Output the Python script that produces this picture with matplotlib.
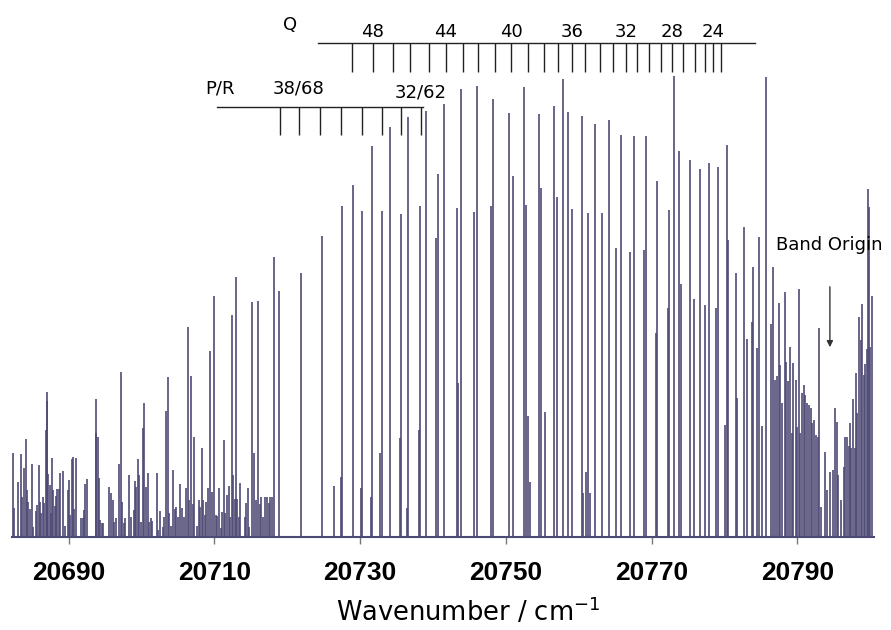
import matplotlib
matplotlib.use("Agg")
import matplotlib.pyplot as plt

# line positions (cm-1) and intensities (arb. units)
low_wn = [20682.27, 20682.54, 20683.00, 20683.37, 20683.54, 20683.78, 20684.09, 20684.27,
          20684.46, 20684.64, 20684.92, 20685.15, 20685.56, 20685.70, 20685.88, 20686.06,
          20686.20, 20686.43, 20686.61, 20686.80, 20686.94, 20687.07, 20687.21, 20687.39,
          20687.53, 20687.66, 20687.84, 20688.04, 20688.21, 20688.39, 20688.59, 20688.76,
          20689.27, 20689.49, 20689.82, 20690.00, 20690.23, 20690.41, 20690.59, 20690.73,
          20690.96, 20691.65, 20691.88, 20692.06, 20692.29, 20692.47, 20693.71, 20693.80,
          20693.98, 20694.16, 20694.35, 20694.57, 20694.71, 20695.49, 20695.73, 20696.00,
          20696.22, 20696.46, 20696.91, 20697.10, 20697.32, 20697.51, 20697.73, 20698.28,
          20698.48, 20698.89, 20699.07, 20699.24, 20699.44, 20699.62, 20699.85, 20700.12,
          20700.34, 20700.54, 20700.81, 20701.03, 20701.22, 20701.40, 20702.05, 20702.23,
          20702.54, 20702.91, 20703.09, 20703.28, 20703.56, 20703.74, 20704.05, 20704.33,
          20704.56, 20704.74, 20704.97, 20705.29, 20705.52, 20705.76, 20706.03, 20706.35,
          20706.53, 20706.72, 20706.99, 20707.21, 20707.54, 20707.82, 20707.99, 20708.23,
          20708.41, 20708.64, 20708.86, 20709.13, 20709.33, 20709.68, 20709.88, 20710.19,
          20710.37, 20710.60, 20710.88, 20711.02, 20711.25, 20711.47, 20711.66, 20711.94,
          20712.12, 20712.35, 20712.53, 20712.76, 20712.94, 20713.12, 20713.31, 20713.49,
          20714.13, 20714.35, 20714.59, 20714.77, 20715.18, 20715.41, 20715.73, 20715.92,
          20716.20, 20716.37, 20716.69, 20716.96, 20717.20, 20717.43, 20717.65, 20717.93,
          20718.16, 20718.89, 20721.87, 20724.75]
low_int = [84, 29, 55, 83, 40, 69, 98, 47,
           35, 28, 73, 10, 26, 32, 72, 35,
           24, 40, 34, 107, 145, 136, 63, 52,
           24, 79, 47, 31, 41, 48, 48, 64,
           66, 11, 47, 57, 22, 78, 80, 28,
           79, 19, 19, 27, 53, 58, 104, 138,
           100, 59, 17, 14, 14, 50, 44, 37,
           15, 19, 73, 165, 35, 14, 19, 62,
           20, 27, 56, 50, 78, 62, 15, 109,
           134, 50, 64, 15, 19, 16, 64, 7,
           26, 10, 20, 126, 160, 24, 11, 67,
           28, 30, 20, 53, 29, 20, 49, 210,
           37, 161, 33, 100, 11, 37, 30, 89,
           37, 22, 35, 49, 186, 45, 241, 22,
           21, 49, 9, 25, 97, 24, 42, 51,
           20, 222, 62, 38, 260, 38, 20, 54,
           20, 34, 49, 10, 235, 84, 37, 236,
           33, 40, 20, 40, 40, 34, 40, 40,
           280, 246, 264, 301]

mid_wn = [20726.40, 20727.36, 20727.50, 20729.01, 20730.07, 20730.25, 20731.44, 20731.62,
          20732.72, 20733.00, 20734.09, 20735.47, 20735.60, 20736.43, 20736.57, 20738.08,
          20738.21, 20739.00, 20740.41, 20740.69, 20741.47, 20743.26, 20743.43, 20743.80,
          20745.63, 20746.00, 20747.97, 20748.20, 20750.40, 20750.99, 20752.46, 20752.73,
          20753.05, 20753.32, 20754.56, 20754.79, 20755.38, 20756.62, 20756.99, 20757.86,
          20758.54, 20759.09, 20760.47, 20760.60, 20760.98, 20761.25, 20761.57, 20762.29,
          20763.21, 20764.18, 20765.14]
mid_int = [51, 60, 331, 352, 49, 326, 40, 391,
           84, 326, 410, 99, 323, 29, 420, 107,
           331, 426, 299, 363, 433, 329, 154, 448,
           325, 451, 331, 438, 424, 361, 450, 332,
           121, 55, 423, 349, 125, 431, 340, 458,
           425, 328, 421, 44, 65, 324, 44, 413,
           324, 417, 289]

high_wn = [20765.82, 20767.06, 20767.57, 20768.94, 20769.26, 20770.59, 20770.77, 20772.28,
           20772.42, 20773.06, 20773.79, 20774.07, 20775.26, 20775.81, 20776.63, 20777.36,
           20777.91, 20778.83, 20779.19, 20780.15, 20780.34, 20780.52, 20781.58, 20781.76,
           20782.72, 20783.09, 20783.78, 20783.96, 20784.46, 20784.78, 20785.19, 20785.74,
           20786.47, 20786.66, 20786.94, 20787.21, 20787.49, 20787.66, 20787.98, 20788.26,
           20788.45, 20788.72, 20789.04, 20789.22, 20789.49, 20789.77, 20789.96, 20790.27,
           20790.41, 20790.69, 20790.92, 20791.14, 20791.33, 20791.65, 20791.88, 20792.10,
           20792.29, 20792.57, 20792.79, 20793.02, 20793.30, 20793.85, 20794.12, 20794.57,
           20794.85, 20795.18, 20795.40, 20795.59, 20796.04, 20796.41, 20796.63, 20796.87,
           20797.05, 20797.24, 20797.42, 20797.65, 20797.87, 20798.10, 20798.24, 20798.52,
           20798.70, 20798.93, 20799.16, 20799.34, 20799.52, 20799.71, 20799.85, 20800.03,
           20800.26]
high_int = [402, 285, 401, 287, 401, 204, 356, 229,
            327, 461, 386, 253, 377, 238, 368, 232,
            374, 229, 370, 112, 392, 297, 264, 139,
            310, 198, 215, 270, 189, 300, 111, 460,
            213, 270, 157, 161, 234, 172, 134, 245,
            175, 156, 190, 104, 174, 157, 110, 248,
            104, 144, 152, 142, 134, 132, 129, 114,
            117, 102, 100, 209, 30, 85, 47, 65,
            67, 129, 115, 62, 37, 70, 100, 100,
            91, 114, 89, 138, 89, 164, 124, 220,
            197, 233, 162, 173, 188, 348, 330, 190,
            241]

# assignment combs
q_pos = [20728.87, 20731.72, 20734.46, 20736.84, 20739.41, 20741.74, 20744.16, 20746.22,
         20748.48, 20750.71, 20753.01, 20755.25, 20757.21, 20759.05, 20760.88, 20762.94,
         20764.77, 20766.47, 20768.06, 20769.63, 20771.32, 20772.83, 20774.34, 20775.95,
         20777.36, 20778.50, 20779.52]
q_J = list(range(49, 22, -1))
q_labeled = [48, 44, 40, 36, 32, 28, 24]

pr_pos = [20718.98, 20721.59, 20724.48, 20727.32, 20730.21, 20732.95, 20735.60, 20738.35]
pr_labels = {1: "38/68", 7: "32/62"}

origin = 20794.49
xticks = [20690, 20710, 20730, 20750, 20770, 20790]

col = "#4e4a76"

fig = plt.figure(figsize=(8.91, 6.30), dpi=100)
ax = fig.add_axes([0.01347, 0.14762, 0.96790, 0.85238])

wn = low_wn + mid_wn + high_wn
inten = low_int + mid_int + high_int
ax.vlines(wn, 0, inten, color=col, lw=1.2)

ax.set_xlim(20682.2, 20800.6)
ax.set_ylim(0, 537)

# Q branch comb
ax.plot([20724.24, 20784.23], [493.7, 493.7], color="#222222", lw=1)
ax.vlines(q_pos, 465, 493.7, color="#222222", lw=1)
for J, x in zip(q_J, q_pos):
    if J in q_labeled:
        ax.text(x, 505, str(J), ha="center", va="center", fontsize=13, family="DejaVu Sans")
ax.text(20720.36, 512, "Q", ha="center", va="center", fontsize=13, family="DejaVu Sans")

# P/R comb
ax.plot([20710.29, 20738.67], [430.3, 430.3], color="#222222", lw=1)
ax.vlines(pr_pos, 402, 430.3, color="#222222", lw=1)
for i, lab in pr_labels.items():
    yy = 448 if i == 1 else 444
    ax.text(pr_pos[i], yy, lab, ha="center", va="center", fontsize=13, family="DejaVu Sans")
ax.text(20710.74, 448, "P/R", ha="center", va="center", fontsize=13, family="DejaVu Sans")

# band origin marker
ax.text(20787.12, 292, "Band Origin", ha="left", va="center", fontsize=13, family="DejaVu Sans")
ax.annotate("", xy=(origin, 187), xytext=(origin, 253),
            arrowprops=dict(arrowstyle="-|>", color="#333333", lw=1, mutation_scale=9))

for s in ["top", "left", "right"]:
    ax.spines[s].set_visible(False)
ax.spines["bottom"].set_color(col)
ax.spines["bottom"].set_linewidth(1.5)
ax.set_yticks([])
ax.set_xticks(xticks)
ax.set_xticklabels([str(t) for t in xticks], fontsize=19, family="Liberation Sans", weight="bold")
ax.tick_params(axis="x", direction="out", length=5, width=1, color="#777777", pad=12)

fig.text(468 / 891, 1 - 612 / 630, "Wavenumber / cm$^{-1}$", ha="center", va="center",
         fontsize=18.5, family="DejaVu Sans")

fig.savefig("out.png", dpi=100)
